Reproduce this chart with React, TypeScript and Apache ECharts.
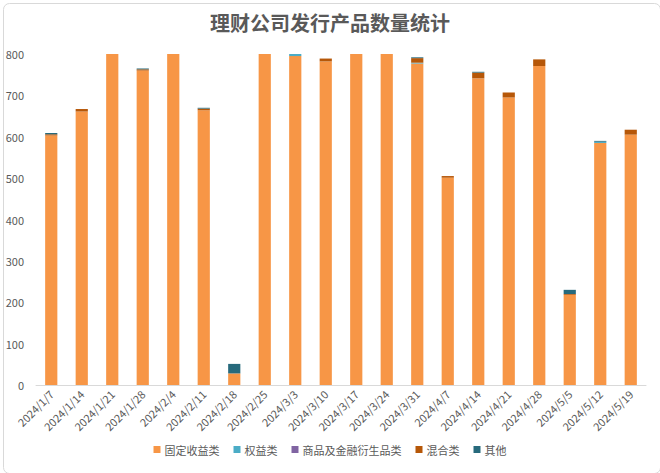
import React, { useEffect, useRef } from "react";
import * as echarts from "echarts";

const categories = [
  "2024/1/7", "2024/1/14", "2024/1/21", "2024/1/28", "2024/2/4", "2024/2/11", "2024/2/18",
  "2024/2/25", "2024/3/3", "2024/3/10", "2024/3/17", "2024/3/24", "2024/3/31", "2024/4/7",
  "2024/4/14", "2024/4/21", "2024/4/28", "2024/5/5", "2024/5/12", "2024/5/19",
];
const fixedIncome = [603, 661, 800, 760, 800, 664, 28, 800, 795, 782, 800, 800, 777, 501, 741, 695, 771, 218, 585, 605];
const equity = [0, 0, 0, 0, 0, 0, 0, 0, 5, 0, 0, 0, 2, 0, 0, 0, 0, 0, 3, 0];
const commodity = [0, 0, 0, 0, 0, 0, 0, 0, 0, 0, 0, 0, 0, 0, 0, 0, 0, 0, 0, 0];
const mixed = [3, 6, 0, 3, 0, 4, 0, 0, 0, 7, 0, 0, 11, 4, 14, 12, 16, 2, 0, 12];
const others = [3, 0, 0, 2, 0, 2, 23, 0, 0, 0, 0, 0, 2, 0, 2, 0, 0, 10, 2, 0];
const yTicks = { min: 0, max: 800, interval: 100 };

const seriesDefs = [
  { name: "固定收益类", data: fixedIncome, color: "#F79646" },
  { name: "权益类", data: equity, color: "#4BACC6" },
  { name: "商品及金融衍生品类", data: commodity, color: "#8064A2" },
  { name: "混合类", data: mixed, color: "#B65708" },
  { name: "其他", data: others, color: "#276A7C" },
];

export default function App() {
  const ref = useRef<HTMLDivElement>(null);
  useEffect(() => {
    if (!ref.current) return;
    const chart = echarts.init(ref.current, null, { renderer: "svg" });
    const font = "'Noto Sans CJK SC', 'Noto Sans', sans-serif";
    chart.setOption({
      animation: false,
      backgroundColor: "#ffffff",
      textStyle: { fontFamily: font },
      title: {
        text: "理财公司发行产品数量统计",
        left: "center",
        top: 7,
        textStyle: { fontSize: 20, fontWeight: "bold", color: "#595959", fontFamily: font },
      },
      graphic: [
        {
          type: "rect",
          left: 1,
          top: 1,
          shape: { width: 657, height: 470, r: 6 },
          style: { fill: "none", stroke: "#D9D9D9", lineWidth: 1 },
          silent: true,
        },
      ],
      legend: {
        bottom: 13,
        left: "center",
        itemWidth: 7,
        itemHeight: 7,
        itemGap: 14,
        icon: "rect",
        textStyle: { fontSize: 11, color: "#595959", fontFamily: font, padding: [0, 0, 0, -1] },
        data: seriesDefs.map((s) => s.name),
      },
      grid: { left: 36, right: 14, top: 54, bottom: 88, containLabel: false },
      xAxis: {
        type: "category",
        data: categories,
        axisLine: { lineStyle: { color: "#D9D9D9" } },
        axisTick: { show: false },
        axisLabel: { rotate: 45, fontSize: 11, color: "#595959", interval: 0, margin: 7 },
      },
      yAxis: {
        type: "value",
        min: yTicks.min,
        max: yTicks.max,
        interval: yTicks.interval,
        axisLine: { show: false },
        axisTick: { show: false },
        splitLine: { show: false },
        axisLabel: { fontSize: 11, color: "#595959", margin: 12 },
      },
      series: seriesDefs.map((s) => ({
        name: s.name,
        type: "bar",
        stack: "total",
        data: s.data,
        barWidth: "40%",
        itemStyle: { color: s.color },
      })),
    });
    return () => chart.dispose();
  }, []);
  return (
    <div
      ref={ref}
      style={{ position: "fixed", left: 0, top: 0, width: 660, height: 473 }}
    />
  );
}
